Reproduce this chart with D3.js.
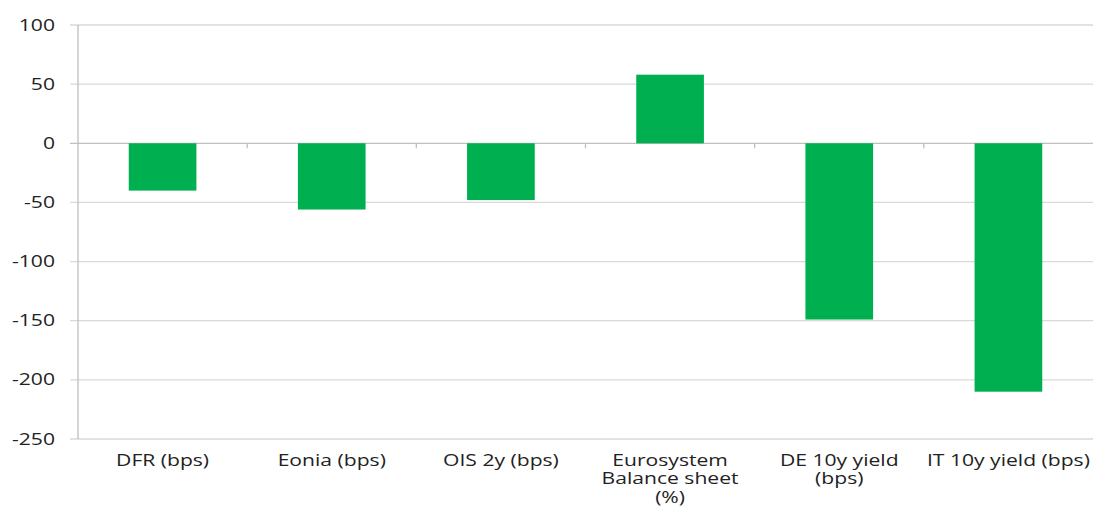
<!DOCTYPE html>
<html>
<head>
<meta charset="utf-8">
<script src="https://cdn.jsdelivr.net/npm/d3@7"></script>
<style>
	body { margin: 0; background: #fff; }
	text { font-family: "Open Sans", sans-serif; fill: #222; }
</style>
</head>
<body>
<div id="chart"></div>
<script>
(function(){

var width = 1095,
	height = 507,
	margin = {top: 25, right: 2, bottom: 70, left: 78},
	stretch = 1.32; // the reference text is wider than it is tall

// data

var categories = ["DFR (bps)", "Eonia (bps)", "OIS 2y (bps)", "Eurosystem Balance sheet (%)", "DE 10y yield (bps)", "IT 10y yield (bps)"];
var labelLines = [["DFR (bps)"], ["Eonia (bps)"], ["OIS 2y (bps)"], ["Eurosystem", "Balance sheet", "(%)"], ["DE 10y yield", "(bps)"], ["IT 10y yield (bps)"]];
var values = [-40, -56, -48, 58, -149, -210];
var yTicks = [100, 50, 0, -50, -100, -150, -200, -250];

var barcolor = "#00b050",
	gridcolor = "#d9d9d9",
	axiscolor = "#bfbfbf";

var svg = d3.select("#chart").append("svg")
	.attr("width", width)
	.attr("height", height);

var X = d3.scaleBand().domain(categories)
	.range([margin.left, width - margin.right])
	.paddingInner(0.6).paddingOuter(0.3);

var Y = d3.scaleLinear().domain([-250, 100]).range([height - margin.bottom + 2, margin.top]);

// gridlines
svg.selectAll(".grid").data(yTicks).enter().append("line")
	.attr("class", "grid")
	.attr("x1", margin.left - 8)
	.attr("x2", width - margin.right)
	.attr("y1", function(d){ return Y(d) })
	.attr("y2", function(d){ return Y(d) })
	.style("stroke", function(d){ return d == 0 ? axiscolor : gridcolor })
	.style("stroke-width", 1.3);

// y axis line
svg.append("line")
	.attr("x1", margin.left).attr("x2", margin.left)
	.attr("y1", Y(100)).attr("y2", Y(-250))
	.style("stroke", axiscolor).style("stroke-width", 1.3);

// y tick labels
svg.selectAll(".ylab").data(yTicks).enter().append("text")
	.attr("class", "ylab")
	.attr("transform", function(d){ return "translate(55," + Y(d) + ") scale(" + stretch + ",1)" })
	.attr("dy", "0.35em")
	.attr("text-anchor", "end")
	.style("font-size", "16px")
	.text(function(d){ return d });

// category ticks on the zero line
svg.selectAll(".xtick").data(d3.range(1, categories.length)).enter().append("line")
	.attr("class", "xtick")
	.attr("x1", function(i){ return margin.left + i * (width - margin.left - margin.right) / categories.length })
	.attr("x2", function(i){ return margin.left + i * (width - margin.left - margin.right) / categories.length })
	.attr("y1", Y(0)).attr("y2", Y(0) + 5)
	.style("stroke", axiscolor).style("stroke-width", 1.3);

// bars
svg.selectAll(".bar").data(values).enter().append("rect")
	.attr("class", "bar")
	.attr("x", function(d, i){ return X(categories[i]) })
	.attr("width", X.bandwidth())
	.attr("y", function(d){ return Y(Math.max(0, d)) })
	.attr("height", function(d){ return Math.abs(Y(d) - Y(0)) })
	.style("fill", barcolor);

// category labels
var lab = svg.selectAll(".xlab").data(categories).enter().append("text")
	.attr("class", "xlab")
	.attr("text-anchor", "middle")
	.style("font-size", "16px")
	.attr("transform", function(d){ return "translate(" + (X(d) + X.bandwidth() / 2) + ",466) scale(" + stretch + ",1)" });

lab.selectAll("tspan").data(function(d, i){ return labelLines[i] }).enter().append("tspan")
	.attr("x", 0)
	.attr("y", function(d, j){ return j * 18.5 })
	.text(function(d){ return d });

})()
</script>
</body>
</html>
